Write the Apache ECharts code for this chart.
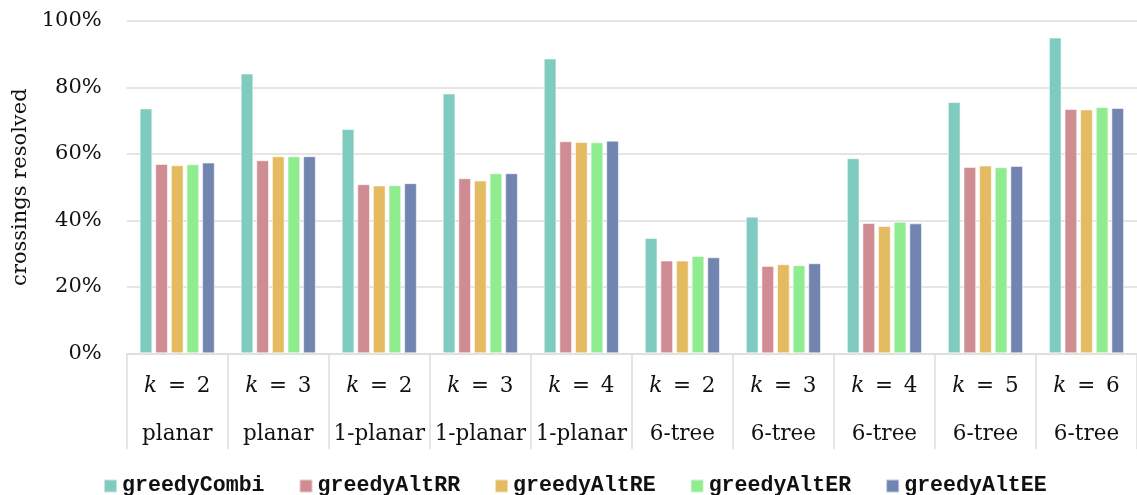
<!DOCTYPE html>
<html>
<head>
<meta charset="utf-8">
<script src="https://cdn.jsdelivr.net/npm/echarts@6/dist/echarts.min.js"></script>
<style>
  html, body { margin: 0; padding: 0; background: #ffffff; }
  #chart { width: 1137px; height: 495px; }
</style>
</head>
<body>
<div id="chart"></div>
<script>
// Category labels: parameter k and the graph class for each group
const kValues = ['2', '3', '2', '3', '4', '2', '3', '4', '5', '6'];
const graphClasses = ['planar', 'planar', '1-planar', '1-planar', '1-planar',
                      '6-tree', '6-tree', '6-tree', '6-tree', '6-tree'];

// Share of crossings resolved (%) per algorithm
const greedyCombi = [73.7, 84.2, 67.5, 78.2, 88.7, 34.7, 41.1, 58.7, 75.6, 95.0];
const greedyAltRR = [57.0, 58.1, 50.9, 52.7, 63.8, 27.9, 26.3, 39.2, 56.1, 73.5];
const greedyAltRE = [56.6, 59.3, 50.5, 52.0, 63.6, 27.9, 26.8, 38.3, 56.5, 73.4];
const greedyAltER = [56.9, 59.3, 50.6, 54.2, 63.5, 29.3, 26.5, 39.6, 56.0, 74.1];
const greedyAltEE = [57.4, 59.3, 51.2, 54.2, 64.0, 28.9, 27.1, 39.1, 56.4, 73.8];

const yTicks = [0, 20, 40, 60, 80, 100];

const seriesDefs = [
  { name: 'greedyCombi', data: greedyCombi, color: '#7fcbbf' },
  { name: 'greedyAltRR', data: greedyAltRR, color: '#cf8c93' },
  { name: 'greedyAltRE', data: greedyAltRE, color: '#e4bb61' },
  { name: 'greedyAltER', data: greedyAltER, color: '#90ed8f' },
  { name: 'greedyAltEE', data: greedyAltEE, color: '#7185b0' }
];

const serif = 'DejaVu Serif';
const gridColor = '#dddddd';

const chart = echarts.init(document.getElementById('chart'), null, { renderer: 'canvas' });

chart.setOption({
  animation: false,
  backgroundColor: '#ffffff',
  grid: { left: 126.7, right: -7.5, top: 21, bottom: 141.7, containLabel: false },
  legend: {
    left: 98,
    top: 470,
    itemWidth: 13,
    itemHeight: 13,
    itemGap: 34,
    icon: 'rect',
    textStyle: {
      fontFamily: 'Liberation Mono',
      fontWeight: 'bold',
      fontSize: 21.6,
      color: '#111111',
      padding: [0, 0, 0, 0]
    },
    data: seriesDefs.map(s => s.name)
  },
  xAxis: {
    type: 'category',
    data: kValues.map((k, i) => k + '|' + graphClasses[i]),
    boundaryGap: true,
    axisLine: { show: true, lineStyle: { color: gridColor, width: 1.5 } },
    axisTick: {
      show: true,
      interval: 0,
      length: 96,
      lineStyle: { color: gridColor, width: 1.5 }
    },
    axisLabel: {
      interval: 0,
      margin: 9,
      lineHeight: 48,
      fontFamily: serif,
      fontSize: 21.5,
      color: '#111111',
      formatter: function (v) {
        const parts = v.split('|');
        return '{k|k}\u2002=\u2002' + parts[0] + '\n' + parts[1];
      },
      rich: {
        k: { fontFamily: serif, fontStyle: 'italic', fontSize: 21.5, lineHeight: 48, color: '#111111' }
      }
    }
  },
  yAxis: {
    type: 'value',
    min: 0,
    max: 100,
    interval: 20,
    name: 'crossings resolved',
    nameLocation: 'middle',
    nameGap: 88,
    nameTextStyle: { fontFamily: serif, fontSize: 21, color: '#111111' },
    axisLine: { show: false },
    axisTick: { show: false },
    axisLabel: {
      margin: 25,
      fontFamily: serif,
      fontSize: 21,
      color: '#111111',
      formatter: function (v) { return yTicks.indexOf(v) >= 0 ? v + '%' : ''; }
    },
    splitLine: { show: true, lineStyle: { color: gridColor, width: 1.5 } }
  },
  series: seriesDefs.map(s => ({
    name: s.name,
    type: 'bar',
    data: s.data,
    barWidth: 12.7,
    barGap: '23%',
    itemStyle: {
      color: s.color,
      borderColor: 'rgba(255,255,255,0.55)',
      borderWidth: 1
    }
  }))
});
</script>
</body>
</html>
